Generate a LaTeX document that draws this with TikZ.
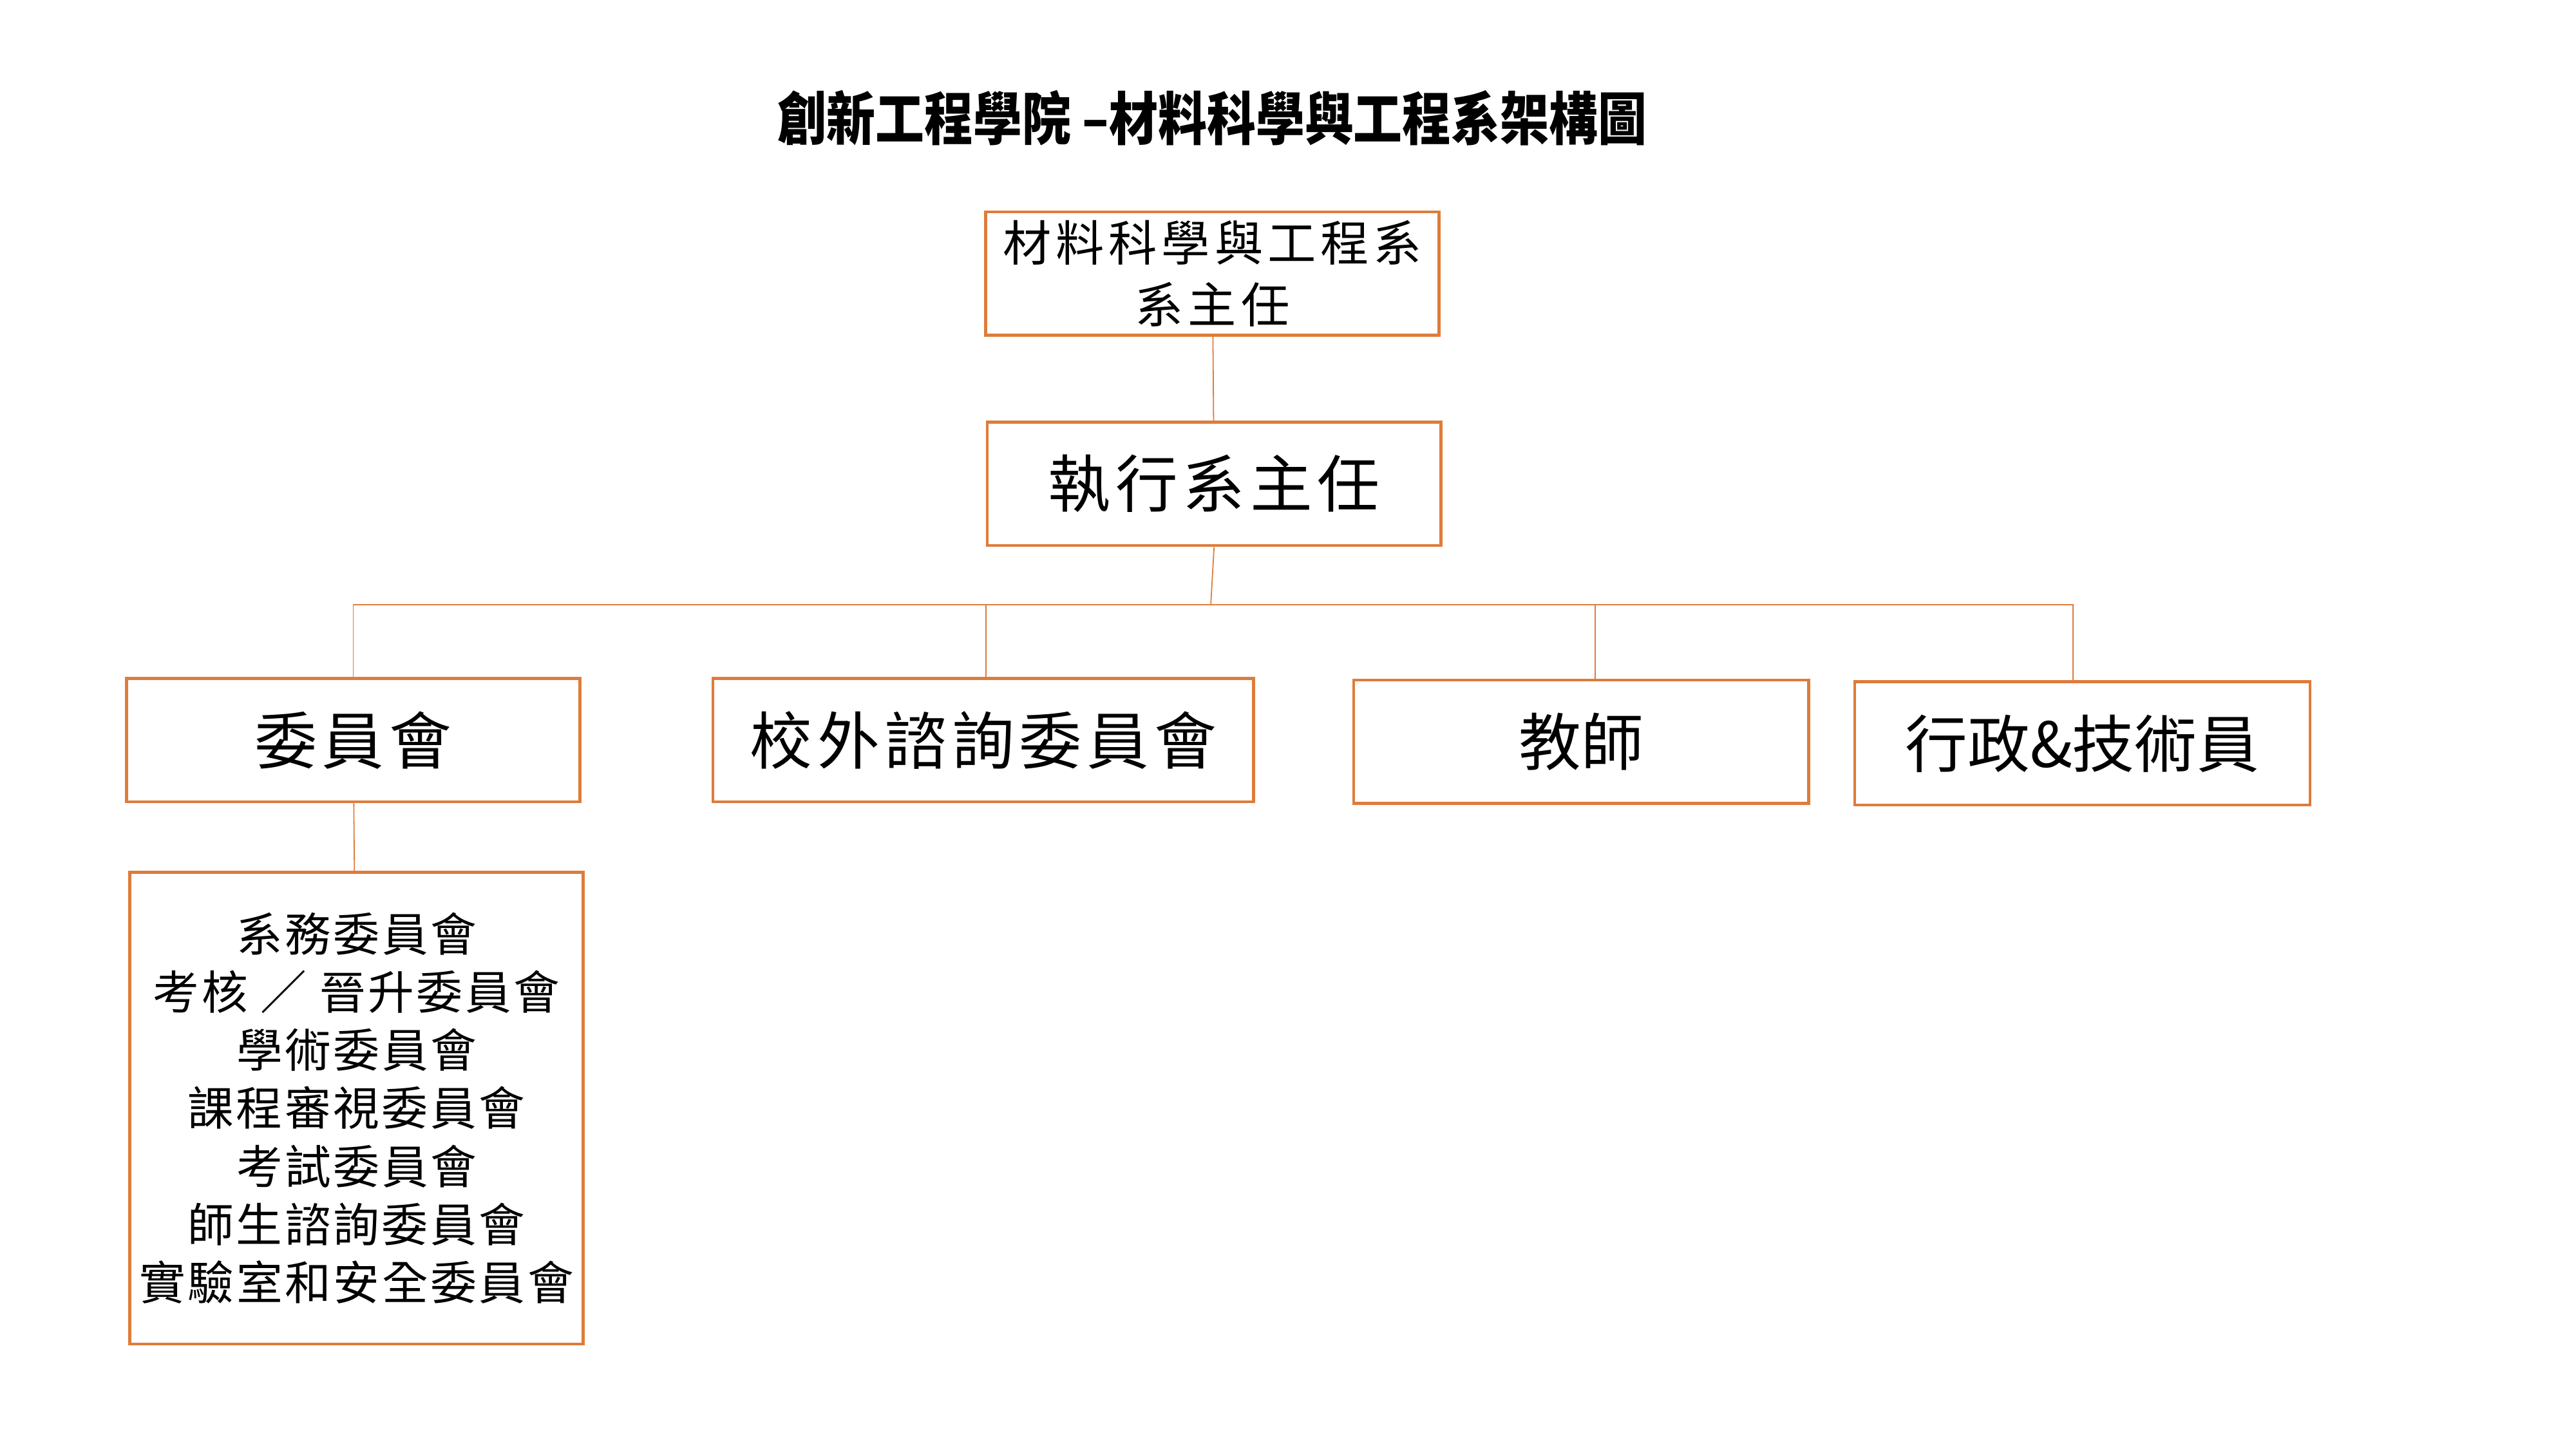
\documentclass[tikz,border=0pt]{standalone}
\usepackage{fontspec}
\usepackage{graphicx}
\usepackage{xcolor}
\setmainfont{Noto Sans CJK TC}
\definecolor{boxorange}{RGB}{222,124,58}
\newcommand{\spread}[1]{\addfontfeature{LetterSpace=#1}}

\begin{document}
\begin{tikzpicture}[x=0.025cm, y=-0.025cm,
    box/.style={draw=boxorange, line width=1.3pt, inner sep=0pt, align=center},
    link/.style={boxorange, line width=0.5pt}]
    \useasboundingbox (0,0) rectangle (1568,882);

    \node[font=\bfseries\fontsize{23}{27}\selectfont] at (738,72) (title)
        {\scalebox{0.92}[1.08]{創新工程學院 –材料科學與工程系架構圖}};

    \node[box, minimum width=6.9cm, minimum height=1.875cm,
          font=\fontsize{21}{27}\selectfont\spread{9}] at (738,166.5) (dept)
        {材料科學與工程系\\系主任};
    \node[box, minimum width=6.9cm, minimum height=1.875cm,
          font=\fontsize{27}{32}\selectfont\spread{8}] at (739,294.5) (exec) {執行系主任};

    \node[box, minimum width=6.9cm, minimum height=1.875cm,
          font=\fontsize{27}{32}\selectfont\spread{8}] at (215,450.5) (comm) {委員會};
    \node[box, minimum width=8.225cm, minimum height=1.875cm,
          font=\fontsize{27}{32}\selectfont\spread{8}] at (598.5,450.5) (advis) {校外諮詢委員會};
    \node[box, minimum width=6.925cm, minimum height=1.875cm,
          font=\fontsize{27}{32}\selectfont] at (962.5,451.5) (faculty) {教師};
    \node[box, minimum width=6.925cm, minimum height=1.875cm,
          font=\fontsize{27}{32}\selectfont] at (1267.5,452.5) (staff) {行政\&技術員};

    \node[box, minimum width=6.9cm, minimum height=7.175cm,
          font=\fontsize{20}{25.1}\selectfont\spread{5}] at (217,674.5) (commlist)
        {系務委員會\\考核 ／ 晉升委員會\\學術委員會\\課程審視委員會\\考試委員會\\師生諮詢委員會\\實驗室和安全委員會};

    % connectors
    \coordinate (bus) at (737,368);
    \draw[link] (dept) -- (exec);
    \draw[link] (exec.south) -- (bus);
    \draw[link] (comm.north) |- (bus);
    \draw[link] ([xshift=-0.14cm]staff.north) |- (bus);
    \draw[link] ([xshift=0.04cm]advis.north) -- ([xshift=0.04cm]advis.north |- bus);
    \draw[link] ([xshift=0.21cm]faculty.north) -- ([xshift=0.21cm]faculty.north |- bus);
    \draw[link] (comm) -- (commlist);
\end{tikzpicture}
\end{document}
